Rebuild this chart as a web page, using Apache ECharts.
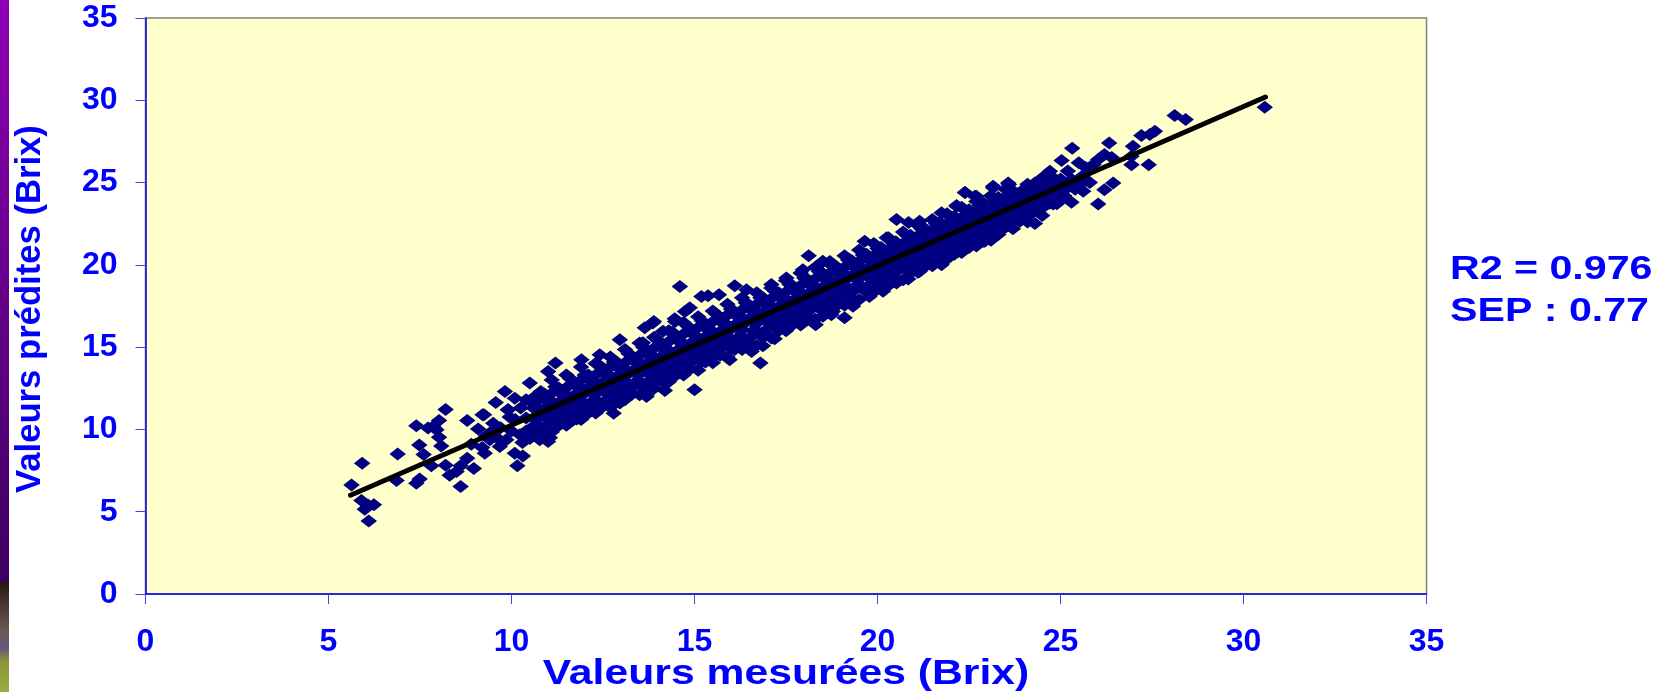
<!DOCTYPE html>
<html><head><meta charset="utf-8">
<style>html,body{margin:0;padding:0;background:#fff}#c{width:1678px;height:692px}</style>
<script src="https://cdn.jsdelivr.net/npm/echarts@6/dist/echarts.min.js"></script>
</head><body><div id="c"></div>
<script>
const xTitle = "Valeurs mesurées (Brix)";
const yTitle = "Valeurs prédites (Brix)";
const statLines = ["R2 = 0.976", "SEP : 0.77"];
const axisTicks = [0, 5, 10, 15, 20, 25, 30, 35];
const trendLine = [[5.6, 6.0], [30.6, 30.2]];

const lowEndPoints = [[5.63,6.63],[5.92,7.95],[5.90,5.68],[6.08,5.41],[5.99,5.15],[6.24,5.43],[6.10,4.44],[6.89,8.50],[6.86,6.89],[7.40,10.22],[7.48,9.06],[7.60,8.47],[7.40,6.73],[7.49,6.99],[7.81,7.79],[7.86,10.18],[8.02,10.54],[7.95,9.98],[8.02,9.53],[7.72,10.08],[8.20,11.21],[8.08,9.0],[8.2,7.83],[8.31,7.22],[8.5,7.44],[8.61,7.79],[8.61,6.53],[8.97,7.62],[8.79,10.54],[9.21,10.89],[9.09,10.02],[8.79,8.25],[9.27,8.56],[9.50,10.38],[9.57,11.64],[9.91,11.19],[9.82,12.31],[10.09,11.9],[10.5,12.82],[11.0,13.52],[11.2,14.03],[10.16,7.8],[10.31,8.39],[10.09,8.56],[9.68,8.96],[9.86,9.37],[9.41,9.37],[11.0,9.26],[10.23,9.67],[10.77,9.37],[11.78,10.63],[12.79,10.99],[14.19,12.37],[15.0,12.41],[13.69,12.0],[12.96,15.45],[11.91,14.23],[12.41,14.54],[9.25,10.89],[9.9,11.19],[10.64,12.0],[11.81,10.7],[12.32,11.09],[11.05,9.49],[10.27,9.67],[13.69,12.1],[12.96,11.6],[13.86,16.47],[14.47,16.56],[13.59,15.26],[14.14,15.96],[13.89,16.56],[13.64,16.18],[14.46,16.72],[14.6,18.69],[8.9,9.1],[9.3,9.6],[9.7,10.1],[10.1,10.6],[9.2,8.9],[9.6,9.5],[10.0,9.9],[9.95,10.75],[10.25,11.3],[9.5,9.95],[10.3,9.2],[10.55,9.75]];

const midPoints = [[15.19,18.08],[15.37,18.13],[15.67,18.19],[16.1,18.73],[16.42,18.49],[17.1,18.8],[17.51,19.2],[18.12,20.56],[18.5,20.2],[17.96,19.71],[16.8,14.03],[16.56,14.74],[15.96,14.23],[16.87,15.08],[17.19,15.51],[17.6,16.26],[17.95,16.48],[18.31,16.36],[18.78,17.17],[14.87,17.4],[14.74,17.17],[20.52,22.75],[19.65,21.43],[20.25,21.65],[20.85,22.57],[21.15,22.65],[21.75,23.17],[22.16,23.56],[22.39,24.39],[22.66,24.17],[23.16,24.69],[23.59,24.88],[19.24,20.32],[18.78,19.91],[18.51,20.21],[19.78,18.08],[20.15,18.39],[19.33,17.48],[19.1,16.78],[18.74,16.97],[18.51,16.87],[20.84,19.14],[21.15,19.6],[21.75,20.0],[22.2,20.82],[22.88,21.43],[23.48,22.25],[20.52,18.9]];

const highEndPoints = [[30.58,29.58],[28.12,29.07],[28.42,28.83],[27.58,28.12],[27.21,27.86],[27.44,27.92],[26.33,27.41],[26.98,27.2],[26.94,26.09],[27.41,26.09],[26.94,26.6],[25.32,27.09],[25.03,26.34],[26.2,26.7],[26.03,26.4],[26.4,26.52],[26.44,24.98],[26.2,24.57],[26.03,23.7],[25.62,24.47],[25.3,23.8],[24.9,23.72],[24.3,22.52],[23.52,22.34],[22.93,21.43],[24.71,25.69],[24.3,24.98],[24.1,24.27],[23.57,24.98],[23.16,24.78],[22.39,24.4],[22.7,24.17],[22.16,23.6],[23.89,22.65],[24.16,23.05],[22.19,20.82],[25.5,26.2],[25.2,25.7],[25.7,25.9],[25.9,26.1],[25.4,24.6],[25.8,25.0],[25.1,24.2],[24.7,23.9],[24.5,24.6],[25.0,25.2],[25.3,25.2],[25.6,25.4],[25.2,24.7],[25.55,24.9]];

const upperBand = [[10.4,11.8],[10.8,12.3],[11.2,12.6],[11.6,13.1],[12,13.3],[12.4,13.9],[12.8,14.1],[13.2,14.6],[13.6,15.0],[14,15.4],[14.4,15.9],[14.8,16.3],[15.2,16.6],[15.6,17.0],[16,17.3],[16.4,17.7],[16.8,18.0],[17.2,18.4],[17.6,18.8],[18,19.2],[18.4,19.6],[18.8,19.9],[19.2,20.3],[19.6,20.6],[20,21.0],[20.4,21.4],[20.8,21.8],[21.2,22.2],[21.6,22.5],[22,22.9],[22.4,23.3],[22.8,23.6],[23.2,24.0],[23.6,24.3],[24,24.6],[24.4,25.0],[24.8,25.3],
[10.6,11.3],[11.0,11.7],[11.4,12.1],[11.8,12.6],[12.2,12.9],[12.6,13.3],[13.0,13.6],[13.4,14.1],[13.8,14.5],[14.2,14.8],[14.6,15.3],[15.0,15.7],[15.4,16.0],[15.8,16.4],[16.2,16.8],[16.6,17.2],[17.0,17.5],[17.4,17.9],[17.8,18.3],[18.2,18.7],[18.6,19.1],[19.0,19.4],[19.4,19.8],[19.8,20.3],[20.2,20.7],[20.6,21.0],[21.0,21.4],[21.4,21.8],[21.8,22.2],[22.2,22.6],[22.6,23.0],[23.0,23.4],[23.4,23.8],[23.8,24.2],[24.2,24.5],[24.6,24.9],[25.0,25.2]];

const upperFill = [[10.7,11.75],[11.1,12.2],[11.5,12.55],[11.9,13.0],[12.3,13.3],[12.7,13.8],[13.1,14.05],[13.5,14.5],[13.9,14.95],[14.3,15.35],[14.7,15.8],[15.1,16.2],[15.5,16.55],[15.9,16.95],[16.3,17.25],[16.7,17.6],[17.1,17.95],[17.5,18.35],[17.9,18.75],[18.3,19.15],[18.7,19.5],[19.1,19.85],[19.5,20.2],[19.9,20.55],[20.3,20.95],[20.7,21.3],[21.1,21.75],[21.5,22.1],[21.9,22.45],[22.3,22.85],[22.7,23.2],[23.1,23.55],[23.5,23.95],[23.9,24.25],[24.3,24.55],[24.7,24.95],
[10.9,11.25],[11.3,11.65],[11.7,12.05],[12.1,12.55],[12.5,12.85],[12.9,13.25],[13.3,13.55],[13.7,14.05],[14.1,14.45],[14.5,14.75],[14.9,15.25],[15.3,15.65],[15.7,15.95],[16.1,16.35],[16.5,16.75],[16.9,17.15],[17.3,17.45],[17.7,17.85],[18.1,18.25],[18.5,18.65],[18.9,19.05],[19.3,19.35],[19.7,19.75],[20.1,20.25],[20.5,20.65],[20.9,20.95],[21.3,21.35],[21.7,21.75],[22.1,22.15],[22.5,22.55],[22.9,22.95],[23.3,23.35],[23.7,23.75],[24.1,24.15],[24.5,24.45],[24.9,24.85]];

const upperEdge = [[11.1,13.0],[11.5,13.3],[11.9,13.8],[12.3,14.0],[12.7,14.4],[13.1,14.85],[13.5,15.25],[13.9,15.6],[14.3,16.0],[14.7,16.5],[15.1,16.85],[15.5,17.2],[15.9,17.6],[16.3,18.0],[16.7,18.3],[17.1,18.6],[17.5,19.05],[17.9,19.5],[18.3,19.85],[18.7,20.2],[19.1,20.55],[19.5,20.9],[19.9,21.3],[20.3,21.65],[20.7,22.0],[21.1,22.4],[21.5,22.75],[21.9,23.1],[22.3,23.5],[22.7,23.85],[23.1,24.2],[23.5,24.6]];

const upperGapPoints = [[10.5,11.75],[10.9,12.15],[11.3,12.5],[11.7,12.9],[12.1,13.3],[12.5,13.7],[12.9,14.05],[13.3,14.45],[13.7,14.85],[14.1,15.25],[14.5,15.6],[14.9,16.0],[15.3,16.4],[15.7,16.8],[16.1,17.15],[16.5,17.55],[16.9,17.95],[17.3,18.3],[17.7,18.7],[18.1,19.1],[18.5,19.5],[18.9,19.85],[19.3,20.25],[19.7,20.65],[20.1,21.05],[20.5,21.4],[20.9,21.8],[21.3,22.2],[21.7,22.6],[22.1,22.95],[22.5,23.35],[22.9,23.75],[23.3,24.1],[23.7,24.5],[24.1,24.9],[24.5,25.3],
[10.7,11.35],[11.1,11.7],[11.5,12.1],[11.9,12.5],[12.3,12.85],[12.7,13.25],[13.1,13.65],[13.5,14.0],[13.9,14.4],[14.3,14.8],[14.7,15.2],[15.1,15.55],[15.5,15.95],[15.9,16.35],[16.3,16.75],[16.7,17.1],[17.1,17.5],[17.5,17.9],[17.9,18.3],[18.3,18.65],[18.7,19.05],[19.1,19.45],[19.5,19.85],[19.9,20.2],[20.3,20.6],[20.7,21.0],[21.1,21.4],[21.5,21.75],[21.9,22.15],[22.3,22.55],[22.7,22.95],[23.1,23.3],[23.5,23.7],[23.9,24.1],[24.3,24.5],[24.7,24.85]];

const centerBand = [[10.4,10.7],[10.8,11.0],[11.2,11.4],[11.6,11.8],[12,12.2],[12.4,12.6],[12.8,13.0],[13.2,13.4],[13.6,13.7],[14,14.1],[14.4,14.5],[14.8,14.9],[15.2,15.3],[15.6,15.7],[16,16.1],[16.4,16.5],[16.8,16.8],[17.2,17.2],[17.6,17.6],[18,18.0],[18.4,18.4],[18.8,18.8],[19.2,19.2],[19.6,19.6],[20,19.9],[20.4,20.3],[20.8,20.7],[21.2,21.1],[21.6,21.5],[22,21.9],[22.4,22.3],[22.8,22.6],[23.2,23.0],[23.6,23.4],[24,23.8],[24.4,24.2],[24.8,24.6],[25.2,25.0],
[10.6,10.7],[11.0,11.05],[11.4,11.45],[11.8,11.85],[12.2,12.2],[12.6,12.6],[13.0,13.0],[13.4,13.4],[13.8,13.75],[14.2,14.15],[14.6,14.55],[15.0,14.95],[15.4,15.3],[15.8,15.7],[16.2,16.1],[16.6,16.5],[17.0,16.85],[17.4,17.25],[17.8,17.65],[18.2,18.05],[18.6,18.4],[19.0,18.8],[19.4,19.2],[19.8,19.6],[20.2,19.95],[20.6,20.35],[21.0,20.75],[21.4,21.15],[21.8,21.5],[22.2,21.9],[22.6,22.3],[23.0,22.7],[23.4,23.05],[23.8,23.45],[24.2,23.85],[24.6,24.25]];

const lowerBand = [[10.6,10.2],[11.0,10.6],[11.4,11.0],[11.8,11.4],[12.2,11.7],[12.6,12.2],[13.0,12.6],[13.4,12.9],[13.8,13.3],[14.2,13.7],[14.6,14.1],[15.0,14.5],[15.4,14.9],[15.8,15.3],[16.2,15.6],[16.6,16.0],[17.0,16.5],[17.4,16.8],[17.8,17.2],[18.2,17.6],[18.6,18.0],[19.0,18.4],[19.4,18.7],[19.8,19.2],[20.2,19.6],[20.6,20.0],[21.0,20.3],[21.4,20.8],[21.8,21.2],[22.2,21.5],[22.6,21.9],[23.0,22.3],[23.4,22.7],[23.8,23.1],[24.2,23.5],[24.6,23.9],[25.0,24.3],
[10.4,9.9],[10.8,10.1],[11.2,10.4],[11.6,10.8],[12,11.1],[12.4,11.6],[12.8,11.9],[13.2,12.3],[13.6,12.6],[14,13.1],[14.4,13.4],[14.8,13.8],[15.2,14.1],[15.6,14.6],[16,14.9],[16.4,15.4],[16.8,15.7],[17.2,16.2],[17.6,16.6],[18,17.0],[18.4,17.4],[18.8,17.8],[19.2,18.1],[19.6,18.6],[20,18.9],[20.4,19.4],[20.8,19.8],[21.2,20.2],[21.6,20.6],[22,21.0],[22.4,21.3],[22.8,21.8],[23.2,22.1],[23.6,22.6],[24,23.0],[24.4,23.4],[24.8,23.7]];

const lowerFill = [[10.7,10.65],[11.1,10.95],[11.5,11.35],[11.9,11.75],[12.3,12.15],[12.7,12.55],[13.1,12.95],[13.5,13.35],[13.9,13.65],[14.3,14.05],[14.7,14.45],[15.1,14.85],[15.5,15.25],[15.9,15.65],[16.3,16.05],[16.7,16.45],[17.1,16.75],[17.5,17.15],[17.9,17.55],[18.3,17.95],[18.7,18.35],[19.1,18.75],[19.5,19.15],[19.9,19.55],[20.3,19.85],[20.7,20.25],[21.1,20.65],[21.5,21.05],[21.9,21.45],[22.3,21.85],[22.7,22.25],[23.1,22.55],[23.5,22.95],[23.9,23.35],[24.3,23.75],[24.7,24.15],
[10.9,10.15],[11.3,10.55],[11.7,10.95],[12.1,11.35],[12.5,11.65],[12.9,12.15],[13.3,12.55],[13.7,12.85],[14.1,13.25],[14.5,13.65],[14.9,14.05],[15.3,14.45],[15.7,14.85],[16.1,15.25],[16.5,15.55],[16.9,15.95],[17.3,16.45],[17.7,16.75],[18.1,17.15],[18.5,17.55],[18.9,17.95],[19.3,18.35],[19.7,18.65],[20.1,19.15],[20.5,19.55],[20.9,19.95],[21.3,20.25],[21.7,20.75],[22.1,21.15],[22.5,21.45],[22.9,21.85],[23.3,22.25],[23.7,22.65],[24.1,23.05],[24.5,23.45],[24.9,23.85]];

const lowerEdge = [[11.1,9.85],[11.5,10.25],[11.9,10.6],[12.3,11.0],[12.7,11.35],[13.1,11.8],[13.5,12.1],[13.9,12.5],[14.3,12.9],[14.7,13.3],[15.1,13.6],[15.5,14.05],[15.9,14.4],[16.3,14.85],[16.7,15.1],[17.1,15.55],[17.5,16.0],[17.9,16.35],[18.3,16.7],[18.7,17.2],[19.1,17.55],[19.5,17.9],[19.9,18.35],[20.3,18.75],[20.7,19.1],[21.1,19.55],[21.5,19.95],[21.9,20.35],[22.3,20.75],[22.7,21.15],[23.1,21.5]];

const lowerGapPoints = [[10.5,9.45],[10.9,9.85],[11.3,10.25],[11.7,10.6],[12.1,11.0],[12.5,11.4],[12.9,11.75],[13.3,12.15],[13.7,12.55],[14.1,12.95],[14.5,13.3],[14.9,13.7],[15.3,14.1],[15.7,14.5],[16.1,14.85],[16.5,15.25],[16.9,15.65],[17.3,16.0],[17.7,16.4],[18.1,16.8],[18.5,17.2],[18.9,17.55],[19.3,17.95],[19.7,18.35],[20.1,18.75],[20.5,19.1],[20.9,19.5],[21.3,19.9],[21.7,20.3],[22.1,20.65],[22.5,21.05],[22.9,21.45],[23.3,21.85],[23.7,22.2],[24.1,22.6],[24.5,23.0],
[10.7,10.25],[11.1,10.6],[11.5,11.0],[11.9,11.4],[12.3,11.75],[12.7,12.15],[13.1,12.55],[13.5,12.9],[13.9,13.3],[14.3,13.7],[14.7,14.1],[15.1,14.45],[15.5,14.85],[15.9,15.25],[16.3,15.65],[16.7,16.0],[17.1,16.4],[17.5,16.8],[17.9,17.2],[18.3,17.55],[18.7,17.95],[19.1,18.35],[19.5,18.75],[19.9,19.1],[20.3,19.5],[20.7,19.9],[21.1,20.3],[21.5,20.65],[21.9,21.05],[22.3,21.45],[22.7,21.85],[23.1,22.2],[23.5,22.6],[23.9,23.0],[24.3,23.4],[24.7,23.75]];

const measuredPredicted = [].concat(lowEndPoints, midPoints, highEndPoints, upperBand, upperFill, upperEdge, upperGapPoints, centerBand, lowerBand, lowerFill, lowerEdge, lowerGapPoints);

const blue = "#0000FF";
const font = "'Liberation Sans', Arial, sans-serif";
const chart = echarts.init(document.getElementById("c"), null, {renderer: "canvas"});
const baseAxis = {
  type: "value", min: 0, max: 35, interval: 5,
  splitLine: {show: false},
  axisLine: {show: true, onZero: false, lineStyle: {color: blue, width: 1.5}},
  axisTick: {show: true, length: 10, lineStyle: {color: "#4040FF", width: 1}}
};
chart.setOption({
  animation: false,
  backgroundColor: "#fff",
  grid: {left: 145.5, right: 251.5, top: 18, bottom: 98, outerBoundsMode: "none", show: true, backgroundColor: "#FFFFCC", borderColor: "#808080", borderWidth: 1.5},
  xAxis: Object.assign({}, baseAxis, {
    axisLabel: {color: blue, fontFamily: font, fontWeight: "bold", fontSize: 32, margin: 32}
  }),
  yAxis: Object.assign({}, baseAxis, {
    axisLabel: {color: blue, fontFamily: font, fontWeight: "bold", fontSize: 32, margin: 28}
  }),
  series: [
    {type: "scatter", data: measuredPredicted, symbol: "diamond", symbolSize: [16.5, 13], itemStyle: {color: "#000080", opacity: 1}, z: 2, silent: true},
    {type: "line", data: trendLine, symbol: "none", lineStyle: {color: "#000000", width: 5, cap: "round"}, z: 3, silent: true}
  ],
  graphic: [
    {type: "rect", left: 0, top: 0, z: 10, shape: {width: 9, height: 582}, style: {fill: new echarts.graphic.LinearGradient(0, 0, 0, 1, [{offset: 0, color: "#8E00B4"}, {offset: 1, color: "#3E0060"}])}},
    {type: "rect", left: 0, top: 582, z: 10, shape: {width: 9, height: 110}, style: {fill: new echarts.graphic.LinearGradient(0, 0, 0, 1, [{offset: 0, color: "#2B1712"}, {offset: 0.2, color: "#4A3630"}, {offset: 0.45, color: "#6B5A55"}, {offset: 0.6, color: "#63587A"}, {offset: 0.72, color: "#8C9438"}, {offset: 1, color: "#9CAD42"}])}},
    {type: "text", z: 10, x: 48, y: 309, rotation: Math.PI / 2, scaleX: 0.99,
     style: {text: yTitle, fill: blue, font: "bold 35px " + font, textAlign: "center", textVerticalAlign: "bottom"}},
    {type: "text", z: 10, x: 786, y: 692, scaleX: 1.22,
     style: {text: xTitle, fill: blue, font: "bold 35px " + font, textAlign: "center", textVerticalAlign: "bottom"}},
    {type: "text", z: 10, x: 1450, y: 287, scaleX: 1.21, style: {text: statLines[0], fill: blue, font: "bold 34px " + font, textVerticalAlign: "bottom"}},
    {type: "text", z: 10, x: 1450, y: 329, scaleX: 1.21, style: {text: statLines[1], fill: blue, font: "bold 34px " + font, textVerticalAlign: "bottom"}}
  ]
});
</script></body></html>
